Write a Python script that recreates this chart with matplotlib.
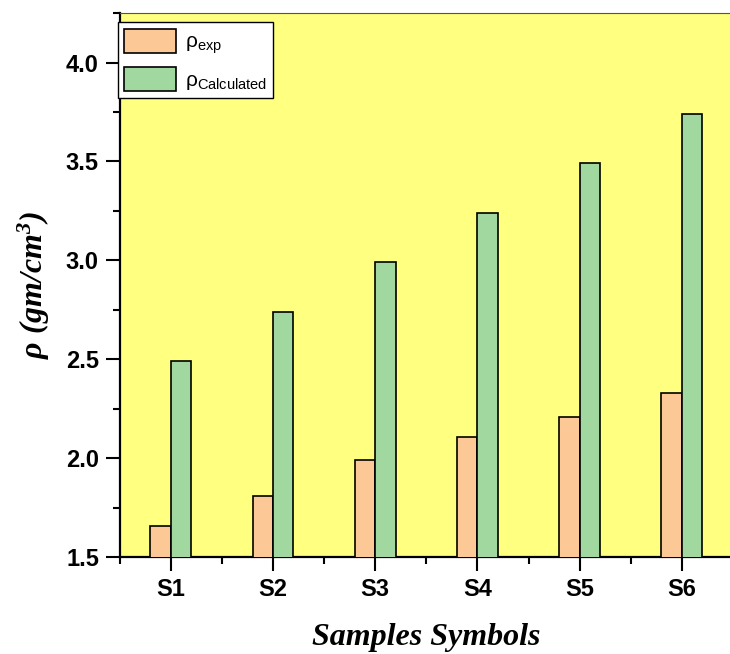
import numpy as np
import matplotlib
matplotlib.use('Agg')
import matplotlib.pyplot as plt
from matplotlib.ticker import MultipleLocator

# Density data per sample
samples = ['S1', 'S2', 'S3', 'S4', 'S5', 'S6']
rho_exp = [1.66, 1.81, 1.99, 2.11, 2.21, 2.33]
rho_calc = [2.49, 2.74, 2.99, 3.24, 3.49, 3.74]

plt.rcParams['mathtext.fontset'] = 'custom'
plt.rcParams['mathtext.rm'] = 'Liberation Sans'
plt.rcParams['mathtext.it'] = 'Liberation Serif:italic:bold'
plt.rcParams['mathtext.bf'] = 'Liberation Serif:italic:bold'

fig = plt.figure(figsize=(7.30, 6.54), dpi=100)
ax = fig.add_axes([0.164, 0.148, 0.84, 0.832])
ax.set_facecolor('#FFFF80')

x = np.arange(1, len(samples) + 1)
w = 0.2
ax.bar(x - w, rho_exp, width=w, align='edge', color='#FCC896',
       edgecolor='black', linewidth=1.2, label=r'$\mathrm{\rho}_{\mathrm{exp}}$', zorder=3)
ax.bar(x, rho_calc, width=w, align='edge', color='#A0D8A0',
       edgecolor='black', linewidth=1.2, label=r'$\mathrm{\rho}_{\mathrm{Calculated}}$', zorder=3)

ax.set_xlim(0.5, 6.5)
ax.set_ylim(1.5, 4.25)
ax.set_xticks(x)
ax.set_xticklabels(samples)
ax.xaxis.set_minor_locator(MultipleLocator(0.5))
ax.yaxis.set_major_locator(MultipleLocator(0.5))
ax.yaxis.set_minor_locator(MultipleLocator(0.25))
ax.yaxis.set_major_formatter(plt.FormatStrFormatter('%.1f'))

for lab in ax.get_xticklabels() + ax.get_yticklabels():
    lab.set_fontfamily('Liberation Sans')
    lab.set_fontweight('bold')
    lab.set_fontsize(17)

ax.tick_params(which='major', direction='out', length=10, width=1.5, pad=5)
ax.tick_params(which='minor', direction='out', length=5, width=1.5)
ax.tick_params(axis='x', which='minor', bottom=True)
ax.tick_params(top=False, right=False, which='both')

for side in ['left', 'bottom']:
    ax.spines[side].set_linewidth(1.6)
ax.spines['top'].set_linewidth(0.8)
ax.spines['top'].set_color('#55553a')
ax.spines['right'].set_visible(False)

ax.set_ylabel(r'$\rho\ \mathbf{(gm/cm^{3})}$', fontsize=23, labelpad=10)
ax.set_xlabel('Samples Symbols', family='Liberation Serif', style='italic',
              weight='bold', fontsize=23, labelpad=16)

leg = ax.legend(loc='upper left', bbox_to_anchor=(-0.003, 0.983), fontsize=15,
                handlelength=2.5, handleheight=1.4, handletextpad=0.4,
                borderpad=0.3, labelspacing=0.55, borderaxespad=0,
                fancybox=False, framealpha=1, edgecolor='black')
leg.get_frame().set_linewidth(1.0)

fig.savefig('out.png', dpi=100)
